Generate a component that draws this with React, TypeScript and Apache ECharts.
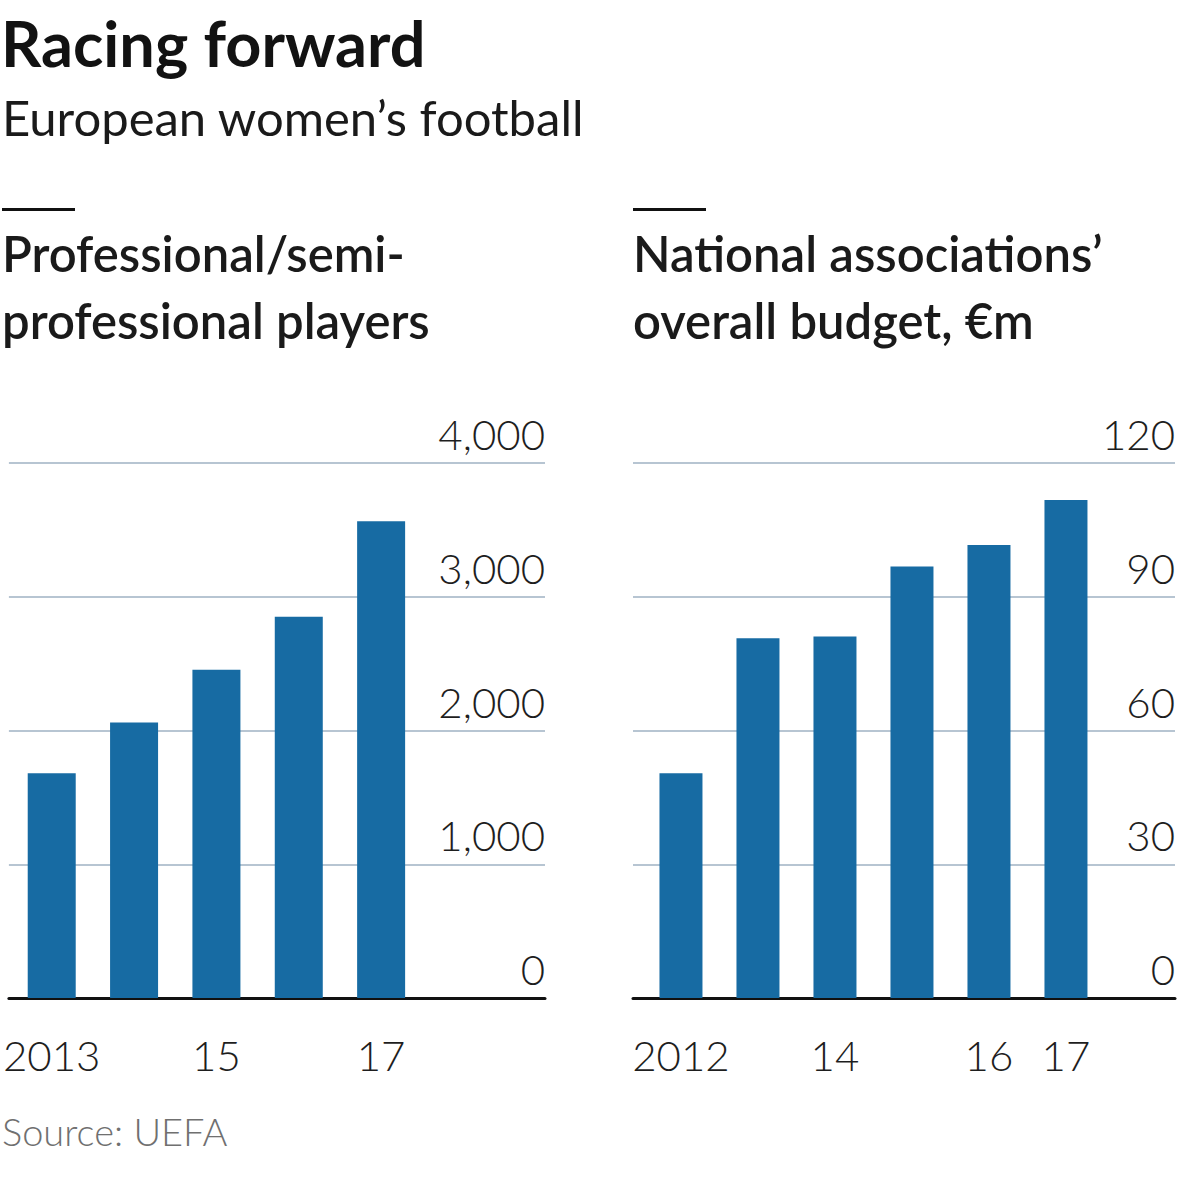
import React, { useEffect, useRef } from "react";
import * as echarts from "echarts";

const playerYears = [2013, 2014, 2015, 2016, 2017];
const playerValues = [1680, 2060, 2455, 2850, 3565];
const playerTicks = [2013, 2015, 2017];

const budgetYears = [2012, 2013, 2014, 2015, 2016, 2017];
const budgetValues = [50.4, 80.7, 81.1, 96.8, 101.6, 111.7];
const budgetTicks = [2012, 2014, 2016, 2017];

const BAR = "#176ba3";
const GRID = "#b7c5d2";
const FONT = "Lato, 'Noto Sans', sans-serif";

const yearFmt = (first: number) => (v: number) =>
  Math.round(v) === first ? String(Math.round(v)) : String(Math.round(v)).slice(2);

export default function App() {
  const ref = useRef<HTMLDivElement>(null);
  useEffect(() => {
    document.body.style.margin = "0";
    const chart = echarts.init(ref.current!, null, { renderer: "svg" });
    const axisLabelY = {
      inside: true,
      verticalAlign: "bottom" as const,
      margin: 0,
      padding: [0, 0, 8, 0],
      fontSize: 42,
      fontWeight: 300,
      fontFamily: FONT,
      color: "#1e1e1e",
    };
    const xLabel = (ticks: number[]) => ({
      customValues: ticks,
      formatter: yearFmt(ticks[0]),
      fontSize: 42,
      fontWeight: 300,
      fontFamily: FONT,
      color: "#1e1e1e",
      margin: 36,
    });
    chart.setOption({
      animation: false,
      backgroundColor: "#fff",
      grid: [
        { left: 2, right: 635, top: 463, bottom: 202 },
        { left: 633, right: 5, top: 463, bottom: 202 },
      ],
      xAxis: [
        {
          type: "value",
          gridIndex: 0,
          min: 2012.48,
          max: 2018.99,
          splitLine: { show: false },
          axisTick: { show: false },
          axisLine: { show: true, onZero: false, lineStyle: { color: "#111", width: 3 } },
          axisLabel: xLabel(playerTicks),
        },
        {
          type: "value",
          gridIndex: 1,
          min: 2011.377,
          max: 2018.416,
          splitLine: { show: false },
          axisTick: { show: false },
          axisLine: { show: true, onZero: false, lineStyle: { color: "#111", width: 3 } },
          axisLabel: xLabel(budgetTicks),
        },
      ],
      yAxis: [
        {
          type: "value",
          gridIndex: 0,
          position: "right",
          min: 0,
          max: 4000,
          interval: 1000,
          axisLine: { show: false },
          axisTick: { show: false },
          splitLine: { lineStyle: { color: GRID, width: 2 } },
          axisLabel: axisLabelY,
        },
        {
          type: "value",
          gridIndex: 1,
          position: "right",
          min: 0,
          max: 120,
          interval: 30,
          axisLine: { show: false },
          axisTick: { show: false },
          splitLine: { lineStyle: { color: GRID, width: 2 } },
          axisLabel: axisLabelY,
        },
      ],
      series: [
        {
          type: "bar",
          xAxisIndex: 0,
          yAxisIndex: 0,
          barWidth: 48,
          itemStyle: { color: BAR },
          data: playerYears.map((y, i) => [y, playerValues[i]]),
        },
        {
          type: "bar",
          xAxisIndex: 1,
          yAxisIndex: 1,
          barWidth: 43,
          itemStyle: { color: BAR },
          data: budgetYears.map((y, i) => [y, budgetValues[i]]),
        },
      ],
      graphic: [
        {
          type: "text",
          x: 1,
          y: 42,
          style: {
            text: "Racing forward",
            fontSize: 63,
            fontWeight: "bold",
            fontFamily: FONT,
            fill: "#121212",
            verticalAlign: "middle",
          },
        },
        {
          type: "text",
          x: 2,
          y: 117,
          style: {
            text: "European women\u2019s football",
            fontSize: 49,
            fontWeight: "normal",
            fontFamily: FONT,
            fill: "#1a1a1a",
            verticalAlign: "middle",
          },
        },
        { type: "rect", shape: { x: 2, y: 208, width: 73, height: 3 }, style: { fill: "#111" } },
        { type: "rect", shape: { x: 633, y: 208, width: 73, height: 3 }, style: { fill: "#111" } },
        {
          type: "text",
          x: 2,
          y: 253,
          style: {
            text: "Professional/semi-",
            fontSize: 49,
            fontWeight: 600,
            fontFamily: FONT,
            fill: "#1a1a1a",
            verticalAlign: "middle",
          },
        },
        {
          type: "text",
          x: 2,
          y: 320,
          style: {
            text: "professional players",
            fontSize: 49,
            fontWeight: 600,
            fontFamily: FONT,
            fill: "#1a1a1a",
            verticalAlign: "middle",
          },
        },
        {
          type: "text",
          x: 633,
          y: 253,
          style: {
            text: "National associations\u2019",
            fontSize: 49,
            fontWeight: 600,
            fontFamily: FONT,
            fill: "#1a1a1a",
            verticalAlign: "middle",
          },
        },
        {
          type: "text",
          x: 633,
          y: 320,
          style: {
            text: "overall budget, \u20acm",
            fontSize: 49,
            fontWeight: 600,
            fontFamily: FONT,
            fill: "#1a1a1a",
            verticalAlign: "middle",
          },
        },
        {
          type: "text",
          x: 2,
          y: 1131,
          style: {
            text: "Source: UEFA",
            fontSize: 38,
            fontWeight: 300,
            fontFamily: FONT,
            fill: "#707070",
            verticalAlign: "middle",
          },
        },
      ],
    });
    return () => chart.dispose();
  }, []);
  return <div ref={ref} style={{ width: 1180, height: 1200 }} />;
}
